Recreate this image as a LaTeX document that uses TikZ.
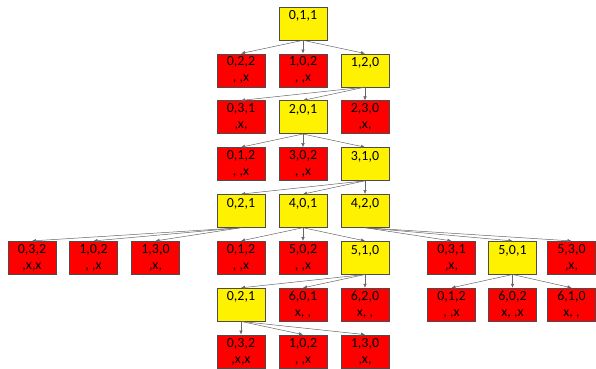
\documentclass[tikz,border=0pt]{standalone}
\usepackage{fontspec}
\setmainfont{Carlito}
\usetikzlibrary{arrows.meta}

\tikzset{
  state/.style={draw=black!70, line width=0.6pt, minimum width=48bp, minimum height=33bp,
    inner sep=0pt, align=center, font=\fontsize{14}{16}\selectfont,
    execute at end node={\rule[-0.5bp]{0pt}{1bp}}},
  open/.style={state, fill=yellow},
  dead/.style={state, fill=red},
  move/.style={draw=black!60, line width=0.5pt, -{Latex[length=4bp,width=3.5bp]}}
}

\begin{document}
\begin{tikzpicture}[x=1bp, y=-1bp]

\useasboundingbox (0,0) rectangle (596,368);

% states, one row per level
\node[open] (a) at (303,23.5) {0,1,1\\};

\node[dead] (b1) at (241,70.3) {0,2,2\\, ,x};
\node[dead] (b2) at (303,70.3) {1,0,2\\, ,x};
\node[open] (b3) at (365,70.3) {1,2,0\\};

\node[dead] (c1) at (241,117.2) {0,3,1\\,x,};
\node[open] (c2) at (303,117.2) {2,0,1\\};
\node[dead] (c3) at (365,117.2) {2,3,0\\,x,};

\node[dead] (d1) at (241,164) {0,1,2\\, ,x};
\node[dead] (d2) at (303,164) {3,0,2\\, ,x};
\node[open] (d3) at (365,164) {3,1,0\\};

\node[open] (e1) at (241,210.9) {0,2,1\\};
\node[open] (e2) at (303,210.9) {4,0,1\\};
\node[open] (e3) at (365,210.9) {4,2,0\\};

\node[dead] (f1) at (32,257.7) {0,3,2\\,x,x};
\node[dead] (f2) at (93.5,257.7) {1,0,2\\, ,x};
\node[dead] (f3) at (155.5,257.7) {1,3,0\\,x,};
\node[dead] (f4) at (241,257.7) {0,1,2\\, ,x};
\node[dead] (f5) at (303,257.7) {5,0,2\\, ,x};
\node[open] (f6) at (365,257.7) {5,1,0\\};
\node[dead] (f7) at (451.5,257.7) {0,3,1\\,x,};
\node[open] (f8) at (512.5,257.7) {5,0,1\\};
\node[dead] (f9) at (571.5,257.7) {5,3,0\\,x,};

\node[open] (g1) at (241,304.6) {0,2,1\\};
\node[dead] (g2) at (303,304.6) {6,0,1\\x, ,};
\node[dead] (g3) at (365,304.6) {6,2,0\\x, ,};
\node[dead] (g4) at (451.5,304.6) {0,1,2\\, ,x};
\node[dead] (g5) at (512.5,304.6) {6,0,2\\x, ,x};
\node[dead] (g6) at (571.5,304.6) {6,1,0\\x, ,};

\node[dead] (h1) at (241,351.4) {0,3,2\\,x,x};
\node[dead] (h2) at (303,351.4) {1,0,2\\, ,x};
\node[dead] (h3) at (365,351.4) {1,3,0\\,x,};

% moves
\draw[move] (a.south) -- (b1.north);
\draw[move] (a.south) -- (b2.north);
\draw[move] (a.south) -- (b3.north);

\draw[move] (b3.south) -- (c1.north);
\draw[move] (b3.south) -- (c2.north);
\draw[move] (b3.south) -- (c3.north);

\draw[move] (c2.south) -- (d1.north);
\draw[move] (c2.south) -- (d2.north);
\draw[move] (c2.south) -- (d3.north);

\draw[move] (d3.south) -- (e1.north);
\draw[move] (d3.south) -- (e2.north);
\draw[move] (d3.south) -- (e3.north);

\draw[move] (e1.south) -- (f1.north);
\draw[move] (e1.south) -- (f2.north);
\draw[move] (e1.south) -- (f3.north);
\draw[move] (e2.south) -- (f4.north);
\draw[move] (e2.south) -- (f5.north);
\draw[move] (e2.south) -- (f6.north);
\draw[move] (e3.south) -- (f7.north);
\draw[move] (e3.south) -- (f8.north);
\draw[move] (e3.south) -- (f9.north);

\draw[move] (f6.south) -- (g1.north);
\draw[move] (f6.south) -- (g2.north);
\draw[move] (f6.south) -- (g3.north);
\draw[move] (f8.south) -- (g4.north);
\draw[move] (f8.south) -- (g5.north);
\draw[move] (f8.south) -- (g6.north);

\draw[move] (g1.south) -- (h1.north);
\draw[move] (g1.south) -- (h2.north);
\draw[move] (g1.south) -- (h3.north);

\end{tikzpicture}
\end{document}
